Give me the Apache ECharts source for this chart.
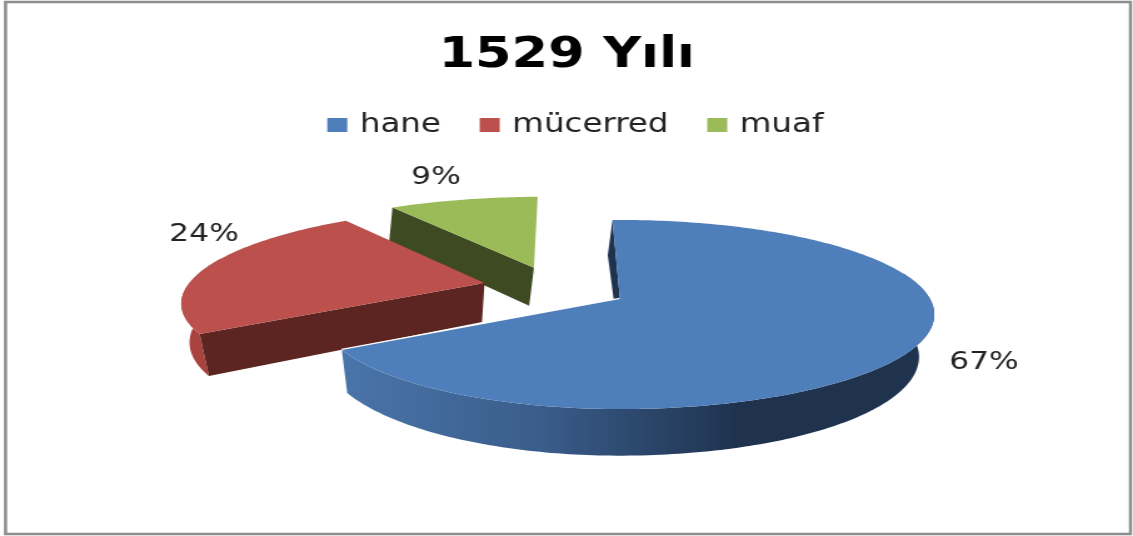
<!DOCTYPE html>
<html>
<head>
<meta charset="utf-8">
<title>1529 Yılı</title>
<script src="https://cdn.jsdelivr.net/npm/echarts@6/dist/echarts.min.js"></script>
<style>
  html, body { margin: 0; padding: 0; background: #fff; overflow: hidden; }
  /* the source picture is stretched sideways, text included */
  #chart { width: 906px; height: 536px; transform: scaleX(1.2506); transform-origin: 0 0; }
</style>
</head>
<body>
<div id="chart"></div>
<script>
// data
const titleText = '1529 Yılı';
const categories = ['hane', 'mücerred', 'muaf'];
const values = [67, 24, 9];

// colours per slice
const topColors = ['#4f7fba', '#bc504d', '#9bbb59'];
const cutColors = ['#1f334f', '#5c2522', '#3e4a21'];
const rimColors = [
  ['#4a75aa', '#3a5d8b', '#1f334f', '#1f334f'],
  ['#a9423f', '#a9423f', '#a9423f', '#a9423f'],
  ['#7f9a48', '#7f9a48', '#7f9a48', '#7f9a48']
];

const stretch = 1.2506;

// pie layout in page pixels: the disk is tilted, so near side is bigger than far side
const cx = 620, cy = 299;
const radX = 310, radY = 92, persp = 0.164;
const startDeg = -1.7;
// how far each slice is pulled out, in disk units
const pull = [[0, 0], [-0.45, -0.18], [-0.294, -0.36]];
const spin = [0, -2, 0];
const leftScale = [0.955, 0.98, 1.04];
const cutShift = [5, 0, 0];
const labelPos = [[984, 362], [204, 234], [436, 177]];

const total = values.reduce((a, b) => a + b, 0);

function project(u, v) {
  const w = 1 - persp * v;
  return [cx + radX * u / w, cy + radY * v / w];
}

// the underside of the pie, a bit smaller and shifted down
function under(p) {
  return [
    p[0] - 6 - 0.032 * (p[0] - cx) + 0.05 * (p[1] - cy),
    p[1] + 40 + 0.06 * (p[1] - cy)
  ];
}

function sliceGeometry(idx) {
  let before = 0;
  for (let i = 0; i < idx; i++) before += values[i];
  const a0 = startDeg + spin[idx] + before / total * 360;
  const a1 = a0 + values[idx] / total * 360;
  const [ox, oy] = pull[idx];
  const rim = [];
  const front = []; // only the near part of the rim shows a side
  const steps = Math.max(8, Math.round(a1 - a0));
  for (let i = 0; i <= steps; i++) {
    const a = (a0 + (a1 - a0) * i / steps) * Math.PI / 180;
    const s = Math.sin(a);
    const c = Math.cos(a);
    const p = project(ox + (s < 0 ? s * leftScale[idx] : s), oy - c);
    rim.push(p);
    if (c < 0.3) front.push(p);
  }
  return { rim, front, apex: project(ox, oy) };
}

function wall(points, shift) {
  const low = points.map(under).map(p => [p[0] + (shift || 0), p[1]]);
  return points.concat(low.reverse());
}

// page pixels to chart pixels
function toChart(points) {
  return points.map(p => [p[0] / stretch, p[1]]);
}

function renderSlice(idx) {
  return function () {
    const { rim, front, apex } = sliceGeometry(idx);
    const last = rim[rim.length - 1];
    const cutFace = {
      type: 'polygon',
      shape: { points: toChart(wall([apex, rim[0]], cutShift[idx])) },
      style: { fill: cutColors[idx] }
    };
    const children = [cutFace];
    if (front.length) {
      const rimFace = {
        type: 'polygon',
        shape: { points: toChart(wall(front)) },
        style: {
          fill: new echarts.graphic.LinearGradient(0, 0, 1, 0,
            rimColors[idx].map((c, i) => ({ offset: i / 3, color: c })))
        }
      };
      // blue: curved side hides the cut face, red is the other way round
      if (idx === 0) children.push(rimFace);
      else children.unshift(rimFace);
    }
    if (idx === 0) {
      // thin light line where blue meets the red wall
      children.push({
        type: 'polyline',
        shape: { points: toChart([apex, last]) },
        style: { stroke: '#fff', lineWidth: 2.5, fill: null }
      });
    }
    children.push(
      { type: 'polygon', shape: { points: toChart([apex].concat(rim)) }, style: { fill: topColors[idx] } },
      {
        type: 'text',
        style: {
          x: labelPos[idx][0] / stretch,
          y: labelPos[idx][1],
          text: Math.round(values[idx] / total * 100) + '%',
          font: '25px "DejaVu Sans"',
          fill: '#222',
          align: 'center',
          verticalAlign: 'middle'
        }
      }
    );
    return { type: 'group', children };
  };
}

const chart = echarts.init(document.getElementById('chart'), null, { renderer: 'canvas' });

chart.setOption({
  animation: false,
  backgroundColor: '#fff',
  title: {
    text: titleText,
    left: 560.5 / stretch,
    top: 30,
    textAlign: 'center',
    textStyle: { fontFamily: 'DejaVu Sans', fontWeight: 'bold', fontSize: 42, color: '#000' }
  },
  legend: {
    left: 321 / stretch,
    top: 107,
    data: categories,
    selectedMode: false,
    icon: 'rect',
    itemWidth: 16,
    itemHeight: 14,
    itemGap: 31,
    textStyle: { fontFamily: 'DejaVu Sans', fontSize: 26, color: '#222', padding: [0, 0, 0, 5] }
  },
  graphic: [{
    type: 'rect',
    silent: true,
    z: -1,
    shape: { x: 5.5 / stretch, y: 2, width: 1125 / stretch, height: 532 },
    style: { fill: 'none', stroke: '#8c8c8c', lineWidth: 2.5 }
  }],
  // draw back slices first so blue sits on top
  series: [2, 1, 0].map(i => ({
    type: 'custom',
    name: categories[i],
    coordinateSystem: 'none',
    silent: true,
    itemStyle: { color: topColors[i] },
    data: [{ name: categories[i], value: values[i] }],
    renderItem: renderSlice(i)
  }))
});

window.addEventListener('resize', () => chart.resize());
</script>
</body>
</html>
